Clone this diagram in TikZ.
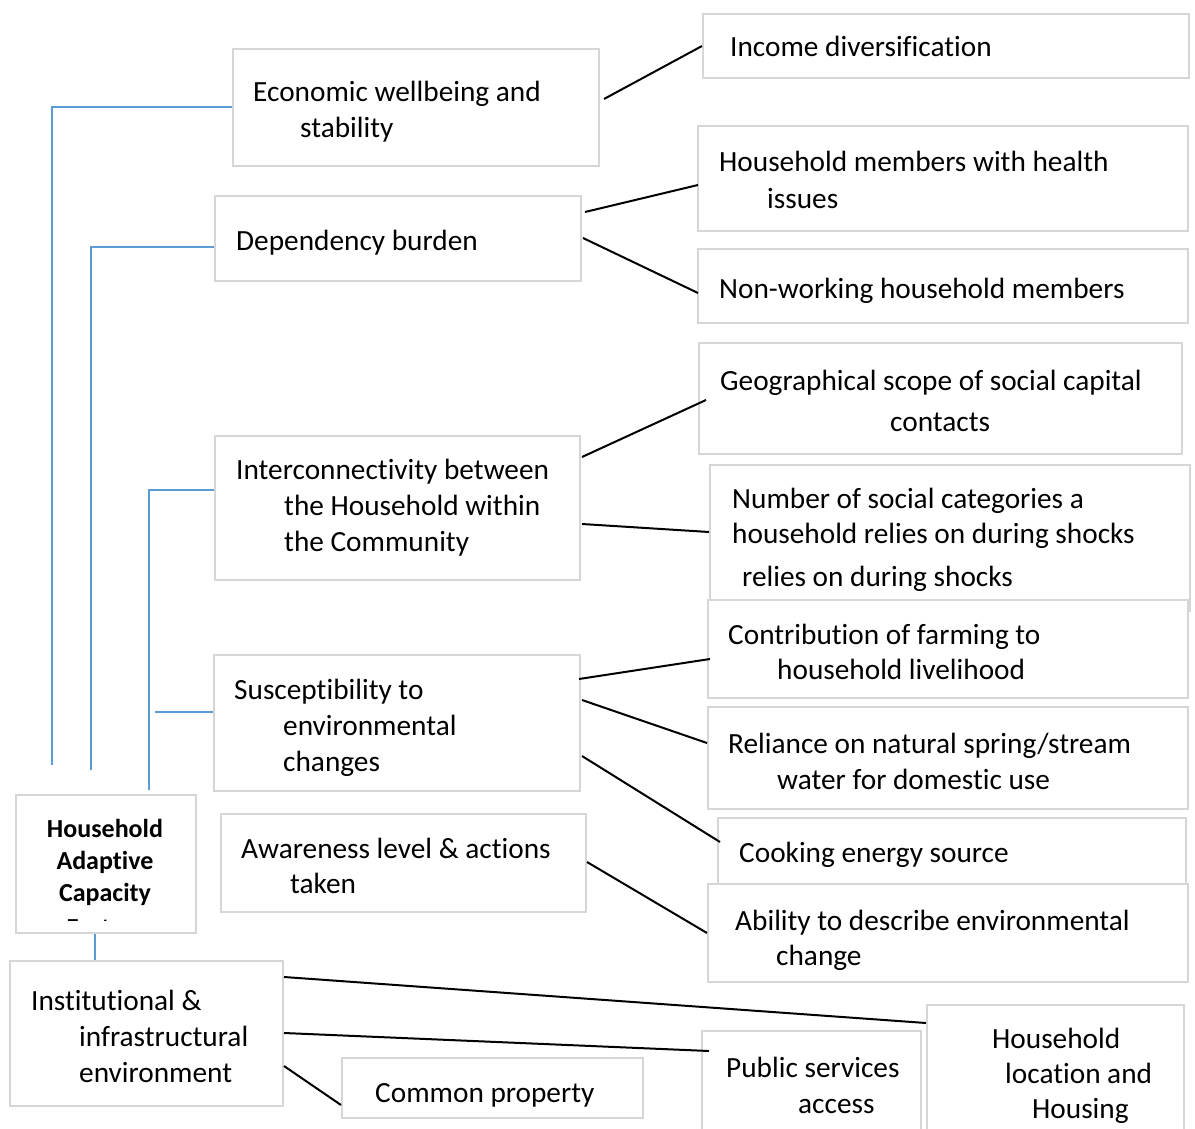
\documentclass[tikz,border=0pt]{standalone}
\usepackage{fontspec}
\setmainfont{Carlito}[Ligatures=CommonOff]
\definecolor{boxgray}{RGB}{214,214,214}
\definecolor{linkblue}{RGB}{91,155,213}
\tikzset{
  box/.style={draw=boxgray, line width=2pt, fill=white, inner sep=0pt, anchor=north west},
  txt/.style={anchor=base west, inner sep=0pt, font=\fontsize{29.3}{36}\selectfont},
  btxt/.style={anchor=base, inner sep=0pt, font=\fontsize{26}{32}\selectfont\bfseries},
  conn/.style={line width=2pt, black},
  tree/.style={line width=1.3pt, linkblue},
}
\newcommand{\tx}[4]{\node[txt] (#1) at (#2,-#3) {#4};}
\begin{document}
\begin{tikzpicture}[x=1pt,y=1pt]
\clip (0,0) rectangle (1195,-1129);
\fill[white] (0,0) rectangle (1195,-1129);

% ---- boxes (left column)
\node[box, minimum width=366pt, minimum height=117pt] (eco)   at (232,-48)  {};
\node[box, minimum width=366pt, minimum height=85pt]  (dep)   at (214,-195) {};
\node[box, minimum width=365pt, minimum height=144pt] (inter) at (214,-435) {};
\node[box, minimum width=366pt, minimum height=136pt] (sus)   at (213,-654) {};
\node[box, minimum width=365pt, minimum height=98pt]  (aware) at (220,-813) {};
\node[box, minimum width=180pt, minimum height=138pt] (hacf)  at (15,-794)  {};
\node[box, minimum width=273pt, minimum height=145pt] (inst)  at (9,-960)   {};
\node[box, minimum width=301pt, minimum height=60pt]  (common) at (341,-1057) {};

% ---- blue tree lines
\coordinate (b1) at (52,-765);
\coordinate (b2) at (91,-770);
\coordinate (b3) at (149,-790);
\coordinate (b4) at (155,-712);
\draw[tree] (b1) |- ([yshift=-59pt]eco.north west);
\draw[tree] (b2) |- ([yshift=-52pt]dep.north west);
\draw[tree] (b3) |- ([yshift=-55pt]inter.north west);
\draw[tree] (b4) -- (b4 -| sus.west);
\draw[tree] ([xshift=-11pt]hacf.south) -- ([xshift=-11pt]hacf.south |- inst.north);

% ---- boxes (right column)
\node[box, minimum width=486pt, minimum height=64pt]  (inc)   at (702,-13)  {};
\node[box, minimum width=490pt, minimum height=105pt] (hea)   at (697,-125) {};
\node[box, minimum width=490pt, minimum height=74pt]  (nonw)  at (697,-248) {};
\node[box, minimum width=483pt, minimum height=111pt] (geo)   at (698,-342) {};
\node[box, minimum width=480pt, minimum height=146pt] (num)   at (709,-464) {};
\begin{scope}
  \clip (711,-466) rectangle (1187,-590);
  \tx{num1}{732}{508}{Number of social categories a}
  \tx{num2}{732}{543}{household relies on during shocks}
  \tx{num3}{742}{586}{relies on during shocks}
\end{scope}
\node[box, minimum width=480pt, minimum height=98pt]  (farm)  at (707,-599) {};
\node[box, minimum width=480pt, minimum height=102pt] (spring) at (707,-706) {};
\node[box, minimum width=468pt, minimum height=83pt]  (cook)  at (717,-817) {};
\tx{cook1}{739}{862}{Cooking energy source}
\node[box, minimum width=480pt, minimum height=98pt]  (abil)  at (707,-883) {};
\node[box, minimum width=219pt, minimum height=110pt] (public) at (701,-1030) {};
\node[box, minimum width=257pt, minimum height=136pt] (loc)   at (926,-1004) {};

% ---- texts
\tx{inc1}{730}{57}{Income diversification}
\tx{eco1}{253}{102}{Economic wellbeing and}
\tx{eco2}{300}{138}{stability}
\tx{hea1}{719}{172}{Household members with health}
\tx{hea2}{767}{208}{issues}
\tx{dep1}{236}{251}{Dependency burden}
\tx{nonw1}{719}{298}{Non-working household members}
\tx{geo1}{720}{390}{Geographical scope of social capital}
\tx{geo2}{890}{431}{contacts}
\tx{int1}{236}{479}{Interconnectivity between}
\tx{int2}{284}{515}{the Household within}
\tx{int3}{284}{551}{the Community}
\tx{farm1}{728}{644}{Contribution of farming to}
\tx{farm2}{777}{679}{household livelihood}
\tx{sus1}{234}{699}{Susceptibility to}
\tx{sus2}{283}{735}{environmental}
\tx{sus3}{283}{771}{changes}
\tx{spr1}{728}{753}{Reliance on natural spring/stream}
\tx{spr2}{777}{789}{water for domestic use}
\tx{aw1}{241}{858}{Awareness level \& actions}
\tx{aw2}{290}{893}{taken}
\tx{ab1}{735}{930}{Ability to describe environmental}
\tx{ab2}{776}{965}{change}
\begin{scope}
  \clip (17,-796) rectangle (193,-920);
  \node[btxt] (h1) at (105,-837) {Household};
  \node[btxt] (h2) at (105,-869) {Adaptive};
  \node[btxt] (h3) at (105,-901) {Capacity};
  \node[btxt] (h4) at (105,-936) {Factors};
\end{scope}
\tx{in1}{31}{1010}{Institutional \&}
\tx{in2}{79}{1046}{infrastructural}
\tx{in3}{79}{1082}{environment}
\tx{com1}{375}{1102}{Common property}
\tx{pub1}{726}{1077}{Public services}
\tx{pub2}{798}{1113}{access}
\tx{loc1}{992}{1048}{Household}
\tx{loc2}{1005}{1083}{location and}
\tx{loc3}{1032}{1118}{Housing}

% ---- connectors
\draw[conn] ([shift={(4pt,-51pt)}]eco.north east) -- (inc.west);
\draw[conn] ([shift={(3pt,-17pt)}]dep.north east) -- ([shift={(1pt,-60pt)}]hea.north west);
\draw[conn] ([shift={(1pt,-43pt)}]dep.north east) -- ([shift={(1pt,-45pt)}]nonw.north west);
\draw[conn] ([shift={(1pt,-22pt)}]inter.north east) -- ([shift={(8pt,-58pt)}]geo.north west);
\draw[conn] ([shift={(1pt,-89pt)}]inter.north east) -- ([shift={(0pt,-68pt)}]num.north west);
\draw[conn] ([shift={(-2pt,-25pt)}]sus.north east) -- ([shift={(3pt,-60pt)}]farm.north west);
\draw[conn] ([shift={(1pt,-46pt)}]sus.north east) -- ([shift={(0pt,-37pt)}]spring.north west);
\draw[conn] ([shift={(1pt,-102pt)}]sus.north east) -- ([shift={(3pt,-25pt)}]cook.north west);
\draw[conn] ([shift={(0pt,-49pt)}]aware.north east) -- ([shift={(0pt,-50pt)}]abil.north west);
\draw[conn] ([shift={(0pt,-17pt)}]inst.north east) -- ([shift={(0pt,-19pt)}]loc.north west);
\draw[conn] ([shift={(0pt,-73pt)}]inst.north east) -- ([shift={(8pt,-21pt)}]public.north west);
\draw[conn] ([shift={(0pt,-106pt)}]inst.north east) -- ([shift={(0pt,-48pt)}]common.north west);
\end{tikzpicture}
\end{document}
